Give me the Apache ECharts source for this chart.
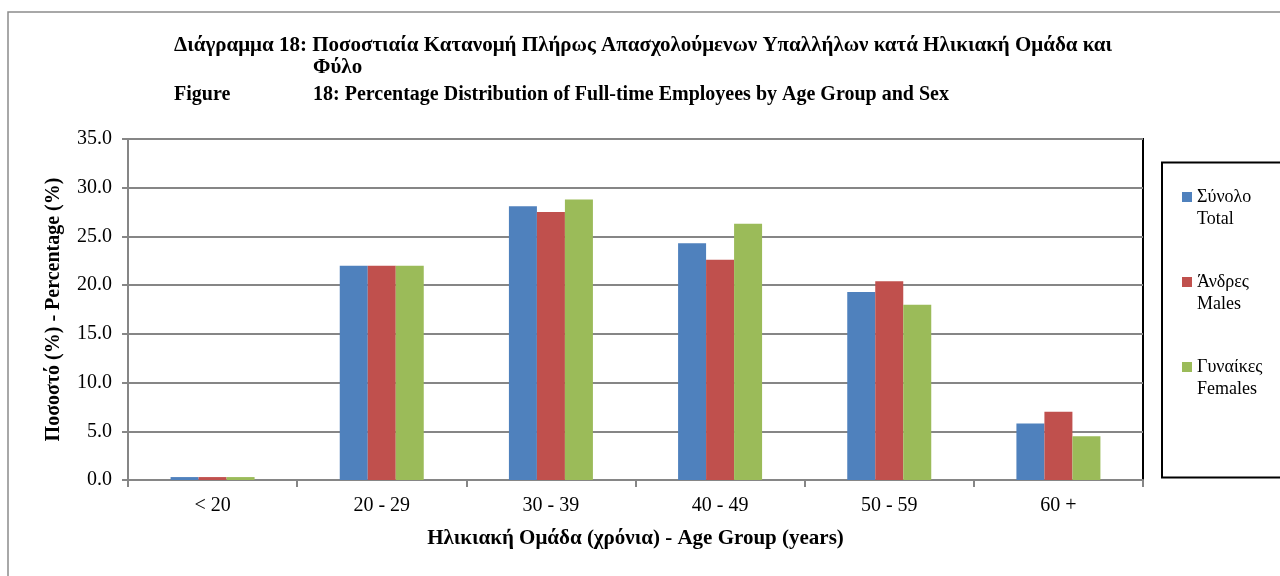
<!DOCTYPE html>
<html>
<head>
<meta charset="utf-8">
<script src="https://cdn.jsdelivr.net/npm/echarts@6/dist/echarts.min.js"></script>
<style>
  html, body { margin: 0; padding: 0; background: #fff; }
  #chart { width: 1280px; height: 576px; }
</style>
</head>
<body>
<div id="chart"></div>
<script>
const categories = ["< 20", "20 - 29", "30 - 39", "40 - 49", "50 - 59", "60 +"];
const totalValues = [0.3, 22.0, 28.1, 24.3, 19.3, 5.8];
const maleValues = [0.3, 22.0, 27.5, 22.6, 20.4, 7.0];
const femaleValues = [0.3, 22.0, 28.8, 26.3, 18.0, 4.5];
const seriesNames = ["Σύνολο\nTotal", "Άνδρες\nMales", "Γυναίκες\nFemales"];
const seriesColors = ["#4F81BD", "#C0504D", "#9BBB59"];

const font = "'Liberation Serif', 'Times New Roman', serif";
const gridColor = "#868686";

const chart = echarts.init(document.getElementById("chart"));

const titleStyle = (size) => ({
  fontFamily: font,
  fontWeight: "bold",
  fontSize: size,
  color: "#000"
});

const option = {
  animation: false,
  textStyle: { fontFamily: font, color: "#000" },
  title: [
    { text: "Διάγραμμα 18: Ποσοστιαία Κατανομή Πλήρως Απασχολούμενων Υπαλλήλων κατά Ηλικιακή Ομάδα και", left: 174, top: 35, padding: 0, textStyle: titleStyle(21) },
    { text: "Φύλο", left: 313, top: 57, padding: 0, textStyle: titleStyle(21) },
    { text: "Figure", left: 174, top: 85, padding: 0, textStyle: titleStyle(20) },
    { text: "18: Percentage Distribution of Full-time Employees by Age Group and Sex", left: 313, top: 85, padding: 0, textStyle: titleStyle(20) }
  ],
  graphic: [
    {
      type: "rect",
      shape: { x: 8, y: 12, width: 1300, height: 600 },
      style: { fill: "none", stroke: "#8c8c8c", lineWidth: 1.5 },
      silent: true
    },
    {
      type: "rect",
      shape: { x: 1162, y: 162.5, width: 130, height: 315 },
      style: { fill: "none", stroke: "#000", lineWidth: 2 },
      silent: true
    }
  ],
  legend: {
    orient: "vertical",
    left: 1182,
    top: 164,
    padding: 0,
    itemWidth: 10,
    itemHeight: 10,
    itemGap: 19,
    icon: "rect",
    data: seriesNames,
    // empty first line keeps the marker level with the Greek label
    formatter: name => "\n" + name,
    textStyle: {
      fontFamily: font,
      fontSize: 18,
      lineHeight: 22,
      color: "#000"
    }
  },
  grid: {
    left: 128,
    right: 137,
    top: 139,
    bottom: 96,
    show: true,
    borderColor: "#000",
    borderWidth: 2
  },
  xAxis: {
    type: "category",
    data: categories,
    name: "Ηλικιακή Ομάδα (χρόνια) - Age Group (years)",
    nameLocation: "middle",
    nameGap: 48,
    nameTextStyle: { fontFamily: font, fontWeight: "bold", fontSize: 21, color: "#000" },
    axisLine: { lineStyle: { color: gridColor, width: 2 } },
    axisTick: { show: true, length: 7, lineStyle: { color: gridColor, width: 2 } },
    axisLabel: { fontFamily: font, fontSize: 20, color: "#000", margin: 16 }
  },
  yAxis: {
    type: "value",
    min: 0,
    max: 35,
    interval: 5,
    name: "Ποσοστό (%) - Percentage (%)",
    nameLocation: "middle",
    nameGap: 64,
    nameTextStyle: { fontFamily: font, fontWeight: "bold", fontSize: 20, color: "#000" },
    axisLine: { show: true, lineStyle: { color: gridColor, width: 2 } },
    axisTick: { show: true, length: 6, lineStyle: { color: gridColor, width: 2 } },
    axisLabel: {
      fontFamily: font,
      fontSize: 20,
      color: "#000",
      margin: 16,
      formatter: v => v.toFixed(1)
    },
    splitLine: { lineStyle: { color: gridColor, width: 2 } }
  },
  series: [totalValues, maleValues, femaleValues].map((vals, i) => ({
    name: seriesNames[i],
    type: "bar",
    data: vals,
    barWidth: 28,
    barGap: "0%",
    itemStyle: { color: seriesColors[i] }
  }))
};

chart.setOption(option);
</script>
</body>
</html>
